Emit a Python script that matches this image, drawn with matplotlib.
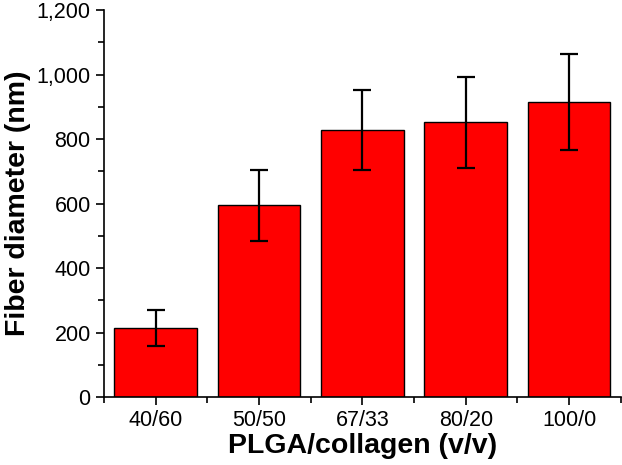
import matplotlib
matplotlib.use("Agg")
import matplotlib.pyplot as plt
from matplotlib.ticker import FuncFormatter, MultipleLocator, FixedLocator

plt.rcParams['font.family'] = ['Liberation Sans', 'DejaVu Sans']

ratios = ["40/60", "50/50", "67/33", "80/20", "100/0"]
diameter = [215, 595, 828, 852, 915]
diameter_sd = [55, 110, 124, 140, 150]

fig = plt.figure(figsize=(6.22, 4.65), dpi=100)
ax = fig.add_axes([0.167, 0.146, 0.831, 0.832])

x = list(range(len(ratios)))
ax.bar(x, diameter, width=0.8, color="#ff0000", edgecolor="black", linewidth=1.0,
       yerr=diameter_sd, capsize=6.5,
       error_kw=dict(elinewidth=1.6, capthick=1.6, ecolor="black"))

ax.set_xlim(-0.5, 4.5)
ax.set_ylim(0, 1200)
ax.set_xticks(x)
ax.set_xticklabels(ratios)
ax.xaxis.set_minor_locator(FixedLocator([i + 0.5 for i in range(-1, len(ratios))]))
ax.yaxis.set_major_locator(MultipleLocator(200))
ax.yaxis.set_minor_locator(MultipleLocator(100))
ax.yaxis.set_major_formatter(FuncFormatter(lambda v, p: f"{int(v):,}"))

for side in ["top", "right"]:
    ax.spines[side].set_visible(False)
for side in ["left", "bottom"]:
    ax.spines[side].set_linewidth(1.2)

ax.tick_params(which="major", direction="out", length=6, width=1.2, labelsize=15.5)
ax.tick_params(which="minor", direction="out", length=4, width=1.2)

ax.set_xlabel("PLGA/collagen (v/v)", fontsize=20.5, fontweight="bold", labelpad=1)
ax.set_ylabel("Fiber diameter (nm)", fontsize=20.5, fontweight="bold", labelpad=4)

fig.savefig("out.png", dpi=100)
